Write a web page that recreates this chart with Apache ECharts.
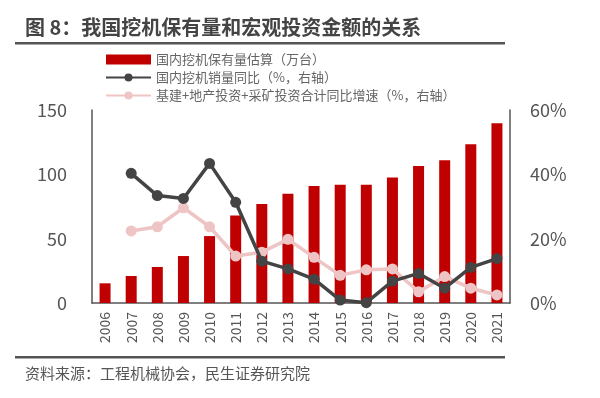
<!DOCTYPE html>
<html>
<head>
<meta charset="utf-8">
<script src="https://cdn.jsdelivr.net/npm/echarts@6/dist/echarts.min.js"></script>
<style>html,body{margin:0;padding:0;background:#fff;}#c{width:600px;height:398px;}</style>
</head>
<body>
<div id="c"></div>
<script>
const years = ['2006','2007','2008','2009','2010','2011','2012','2013','2014','2015','2016','2017','2018','2019','2020','2021'];
const stock = [15.3, 21, 28, 36.5, 52, 68, 77, 85, 91, 92, 92, 97.5, 106.5, 111, 123.4, 139.7];
const salesYoy = ['-', 40.3, 33.4, 32.5, 43.4, 31.3, 13, 10.6, 7.4, 0.9, 0.1, 6.8, 9.2, 4.6, 11.1, 13.8];
const investYoy = ['-', 22.4, 23.7, 29.6, 23.7, 14.6, 15.8, 19.8, 14.2, 8.6, 10.3, 10.6, 3.5, 8.2, 4.6, 2.5];
const leftTicks = [0, 50, 100, 150];
const rightTicks = [0, 20, 40, 60];
const names = ['国内挖机保有量估算（万台）', '国内挖机销量同比（%，右轴）', '基建+地产投资+采矿投资合计同比增速（%，右轴）'];
const titleText = '图 8：我国挖机保有量和宏观投资金额的关系';
const sourceText = '资料来源：工程机械协会，民生证券研究院';

const chart = echarts.init(document.getElementById('c'));
const font = '"Noto Sans CJK SC", "Open Sans", sans-serif';
chart.setOption({
  animation: false,
  textStyle: { fontFamily: font },
  graphic: [
    { type: 'text', left: 25, top: 17, style: { text: titleText, fontSize: 20, fontWeight: 'bold', fill: '#444', fontFamily: font } },
    { type: 'rect', shape: { x: 15, y: 42, width: 490, height: 2.5 }, style: { fill: '#555' } },
    { type: 'rect', shape: { x: 15, y: 356, width: 490, height: 2.5 }, style: { fill: '#555' } },
    { type: 'text', left: 25, top: 366, style: { text: sourceText, fontSize: 15, fill: '#555', fontFamily: font } }
  ],
  legend: {
    orient: 'vertical',
    left: 100,
    top: 48,
    itemWidth: 45,
    itemHeight: 10,
    itemGap: 5,
    textStyle: { fontSize: 13, color: '#666', fontFamily: font },
    data: [{ name: names[0], icon: 'rect' }, names[1], names[2]]
  },
  grid: { left: 92, right: 90, top: 110, bottom: 95 },
  xAxis: {
    type: 'category',
    data: years,
    axisLine: { lineStyle: { color: '#555', width: 1.5 } },
    axisTick: { show: false },
    axisLabel: { rotate: 90, fontSize: 14, color: '#555', margin: 9 }
  },
  yAxis: [
    {
      type: 'value', min: 0, max: 150, interval: 50,
      axisLine: { show: true, lineStyle: { color: '#555', width: 1.5 } },
      axisTick: { show: false },
      splitLine: { show: false },
      axisLabel: { fontSize: 18, color: '#555', margin: 25 }
    },
    {
      type: 'value', min: 0, max: 60, interval: 20,
      axisLine: { show: true, lineStyle: { color: '#555', width: 1.5 } },
      axisTick: { show: false },
      splitLine: { show: false },
      axisLabel: { fontSize: 18, color: '#555', margin: 20, formatter: '{value}%' }
    }
  ],
  series: [
    {
      name: names[0], type: 'bar', data: stock, barWidth: 11,
      itemStyle: { color: '#C00000' }
    },
    {
      name: names[1], type: 'line', yAxisIndex: 1, data: salesYoy,
      symbol: 'circle', symbolSize: 11, z: 4,
      lineStyle: { color: '#444', width: 3.5 },
      itemStyle: { color: '#444' }
    },
    {
      name: names[2], type: 'line', yAxisIndex: 1, data: investYoy,
      symbol: 'circle', symbolSize: 11, z: 3,
      lineStyle: { color: '#EFC4C4', width: 3.5 },
      itemStyle: { color: '#EFC4C4' }
    }
  ]
});
</script>
</body>
</html>
